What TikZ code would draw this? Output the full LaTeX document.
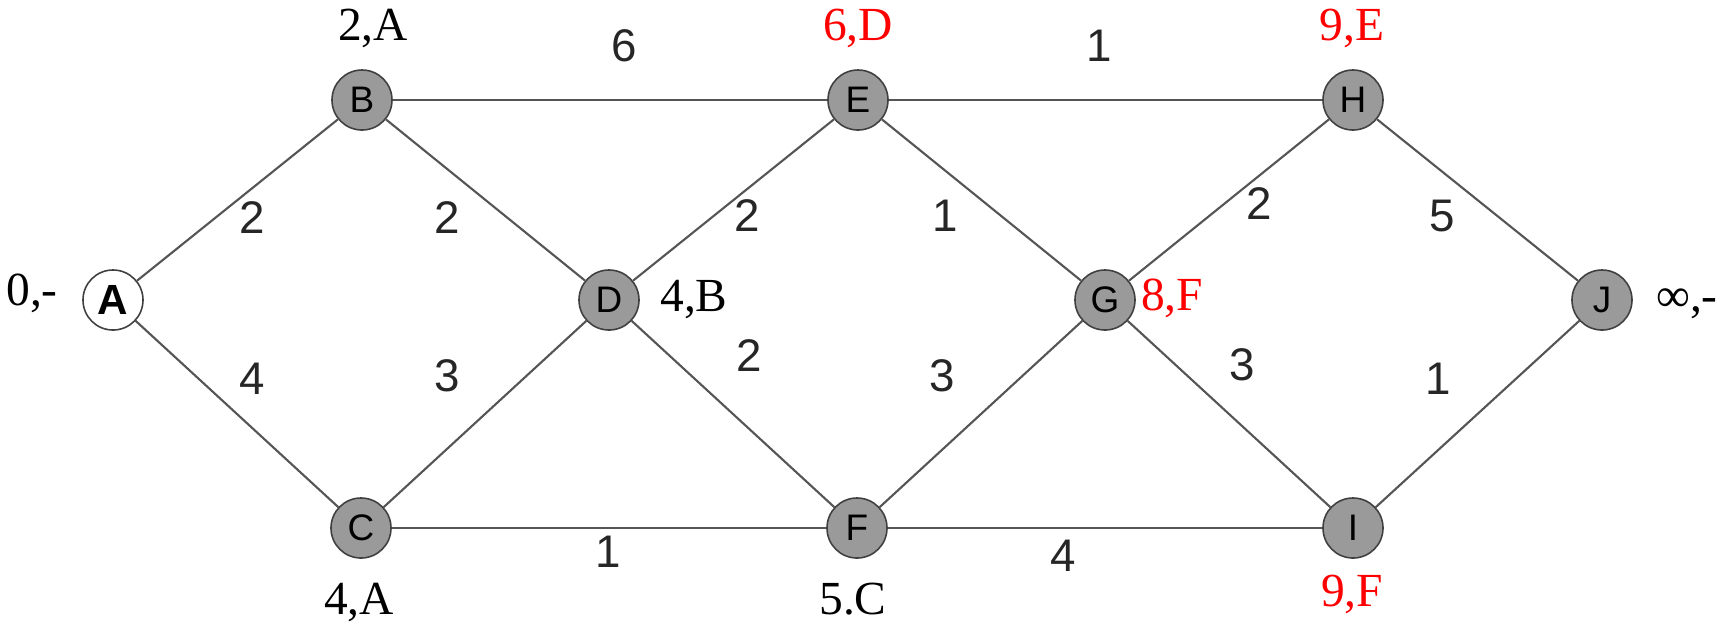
\documentclass[tikz,border=0pt]{standalone}
\usepackage{fontspec}
\setmainfont{Liberation Serif}
\newfontfamily\wfont{Liberation Sans}
\usepackage{tikz}
\usetikzlibrary{positioning}
\definecolor{nodegray}{HTML}{9A9A9A}
\definecolor{edgegray}{HTML}{555555}
\definecolor{distred}{HTML}{FF0000}
\tikzset{
  vertex/.style={circle, draw=black!75, fill=#1, line width=0.45pt, minimum size=0.6cm,
                 inner sep=0pt, font=\wfont\fontsize{10.5}{12}\selectfont},
  vertex/.default=nodegray,
  wt/.style={font=\wfont\fontsize{13}{15}\selectfont, text=black!85, inner sep=0pt},
  dist/.style={font=\fontsize{13.5}{15}\selectfont, text=#1, inner sep=0pt, anchor=base},
  dist/.default=black,
  edge/.style={draw=edgegray, line width=0.6pt},
}
\begin{document}
\begin{tikzpicture}[x=0.01cm, y=-0.01cm]
  \useasboundingbox (0,0) rectangle (1732,623);
  % graph nodes
  \node[vertex=white, font=\wfont\bfseries\fontsize{12}{13}\selectfont] (A) at (113,300) {A};
  \node[vertex] (B) at (362,100) {B};
  \node[vertex] (C) at (361,528) {C};
  \node[vertex] (D) at (609,300) {D};
  \node[vertex] (E) at (858,100) {E};
  \node[vertex] (F) at (857,528) {F};
  \node[vertex] (G) at (1105,300) {G};
  \node[vertex] (H) at (1353,100) {H};
  \node[vertex] (I) at (1353,528) {I};
  \node[vertex] (J) at (1602,300) {J};
  % edges
  \foreach \u/\v in {A/B, A/C, B/D, C/D, B/E, C/F, D/E, D/F, E/G, F/G, E/H, F/I, G/H, G/I, H/J, I/J}
    \draw[edge] (\u) -- (\v);
  % weights
  \node[wt] (wAB) at (252,218) {2};
  \node[wt] (wAC) at (252,379) {4};
  \node[wt] (wBD) at (447,218) {2};
  \node[wt] (wCD) at (447,376) {3};
  \node[wt] (wBE) at (624,46) {6};
  \node[wt] (wCF) at (608,552) {1};
  \node[wt] (wDE) at (747,216) {2};
  \node[wt] (wDF) at (749,356) {2};
  \node[wt] (wEG) at (945,216) {1};
  \node[wt] (wFG) at (942,376) {3};
  \node[wt] (wEH) at (1099,46) {1};
  \node[wt] (wFI) at (1063,556) {4};
  \node[wt] (wGH) at (1259,204) {2};
  \node[wt] (wGI) at (1242,365) {3};
  \node[wt] (wHJ) at (1442,216) {5};
  \node[wt] (wIJ) at (1438,379) {1};
  % distance labels (baselines)
  \node[dist] (dA) at (32,305) {0,-};
  \node[dist] (dB) at (373,40) {2,A};
  \node[dist] (dC) at (359,614) {4,A};
  \node[dist] (dD) at (694,311) {4,B};
  \node[dist=distred] (dE) at (858,40) {6,D};
  \node[dist] (dF) at (853,614) {5.C};
  \node[dist=distred] (dG) at (1172,310) {8,F};
  \node[dist=distred] (dH) at (1352,40) {9,E};
  \node[dist=distred] (dI) at (1352,606) {9,F};
  \node[dist] (dJ) at (1687,311) {∞,-};
\end{tikzpicture}
\end{document}
